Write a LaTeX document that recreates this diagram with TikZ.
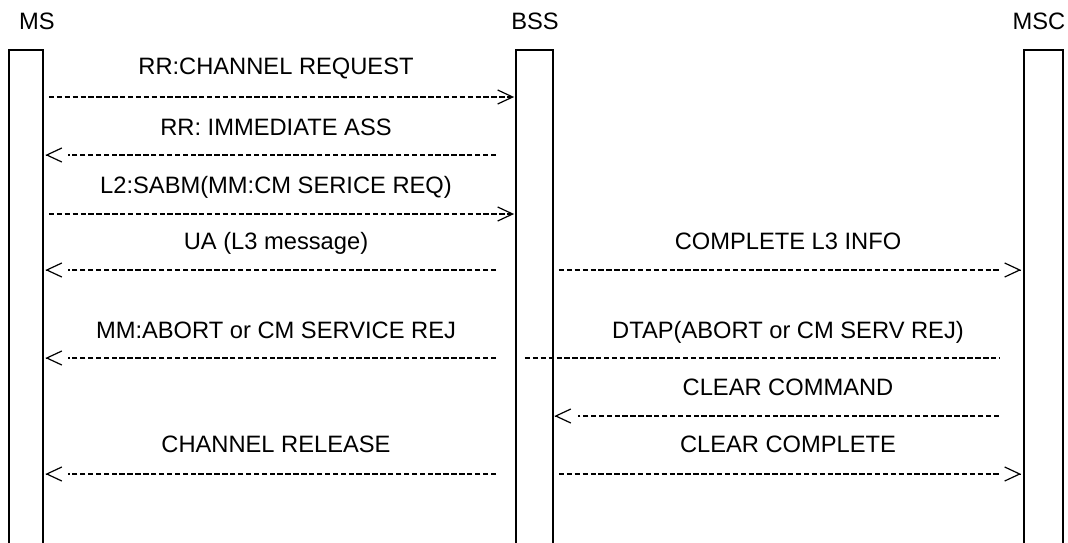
\documentclass[tikz,border=0pt]{standalone}
\usepackage{fontspec}
\setmainfont{Liberation Sans}
\usetikzlibrary{arrows.meta, positioning}

\begin{document}
\begin{tikzpicture}[x=1pt, y=-1pt,
    lifeline/.style={draw, line width=1.8pt, minimum height=540pt, anchor=north, inner sep=0pt},
    actor/.style={anchor=base, inner sep=0pt, font=\fontsize{23.7}{28}\selectfont},
    msgtext/.style={anchor=base, inner sep=0pt, font=\fontsize{23.7}{28}\selectfont},
    msg/.style={line width=1.9pt, dash pattern=on 5.4pt off 2.5pt},
    chev/.tip={Straight Barb[length=15pt, width=14pt, line width=1.2pt]},
    head/.style={-chev, line width=0.1pt}]
    \useasboundingbox (0,0) rectangle (1068,542);

    % ACTORS
    \node[actor] (ms) at (37,29.5) {MS};
    \node[actor] (bss) at (535,29.5) {BSS};
    \node[actor] (msc) at (1039,29.5) {MSC};

    % LIFELINES
    \node[lifeline, minimum width=34pt] (msbox) at (26,49) {};
    \node[lifeline, minimum width=37pt] (bssbox) at (534.5,49) {};
    \node[lifeline, minimum width=39pt] (mscbox) at (1043.5,49) {};

    % MESSAGE TEXTS
    \node[msgtext] (t1) at (276,74.5) {RR:CHANNEL REQUEST};
    \node[msgtext] (t2) at (276,135.5) {RR: IMMEDIATE ASS};
    \node[msgtext] (t3) at (276,193.5) {L2:SABM(MM:CM SERICE REQ)};
    \node[msgtext] (t4) at (276,249.5) {UA (L3 message)};
    \node[msgtext] (t5) at (788,249.5) {COMPLETE L3 INFO};
    \node[msgtext] (t6) at (276,338.5) {MM:ABORT or CM SERVICE REJ};
    \node[msgtext] (t7) at (788,338.5) {DTAP(ABORT or CM SERV REJ)};
    \node[msgtext] (t8) at (788,395.5) {CLEAR COMMAND};
    \node[msgtext] (t9) at (276,452.5) {CHANNEL RELEASE};
    \node[msgtext] (t10) at (788,452.5) {CLEAR COMPLETE};

    % MESSAGES MS -> BSS
    \draw[msg, -chev, shorten <=5pt, shorten >=1pt] (msbox.east |- 0,97) -- (bssbox.west |- 0,97);
    \draw[msg, -chev, shorten <=5pt, shorten >=1pt] (msbox.east |- 0,214) -- (bssbox.west |- 0,214);

    % MESSAGES BSS -> MS
    \draw[msg, shorten <=19pt, shorten >=24pt] (bssbox.west |- 0,155) -- (msbox.east |- 0,155);
    \draw[head] ([xshift=2pt]msbox.east |- 0,155) -- ([xshift=1.5pt]msbox.east |- 0,155);
    \draw[msg, shorten <=19pt, shorten >=24pt] (bssbox.west |- 0,270) -- (msbox.east |- 0,270);
    \draw[head] ([xshift=2pt]msbox.east |- 0,270) -- ([xshift=1.5pt]msbox.east |- 0,270);
    \draw[msg, shorten <=19pt, shorten >=24pt] (bssbox.west |- 0,358) -- (msbox.east |- 0,358);
    \draw[head] ([xshift=2pt]msbox.east |- 0,358) -- ([xshift=1.5pt]msbox.east |- 0,358);
    \draw[msg, shorten <=19pt, shorten >=24pt] (bssbox.west |- 0,474) -- (msbox.east |- 0,474);
    \draw[head] ([xshift=2pt]msbox.east |- 0,474) -- ([xshift=1.5pt]msbox.east |- 0,474);

    % MESSAGES BSS <-> MSC
    \draw[msg, shorten <=5pt, shorten >=24pt] (bssbox.east |- 0,270) -- (mscbox.west |- 0,270);
    \draw[head] ([xshift=-2.5pt]mscbox.west |- 0,270) -- ([xshift=-2pt]mscbox.west |- 0,270);
    \draw[msg, shorten <=-29pt, shorten >=24pt] (bssbox.east |- 0,358) -- (mscbox.west |- 0,358);
    \draw[msg, shorten <=24pt, shorten >=24pt] (mscbox.west |- 0,416) -- (bssbox.east |- 0,416);
    \draw[head] ([xshift=1pt]bssbox.east |- 0,416) -- ([xshift=0.5pt]bssbox.east |- 0,416);
    \draw[msg, shorten <=5pt, shorten >=24pt] (bssbox.east |- 0,474) -- (mscbox.west |- 0,474);
    \draw[head] ([xshift=-2.5pt]mscbox.west |- 0,474) -- ([xshift=-2pt]mscbox.west |- 0,474);
\end{tikzpicture}
\end{document}
